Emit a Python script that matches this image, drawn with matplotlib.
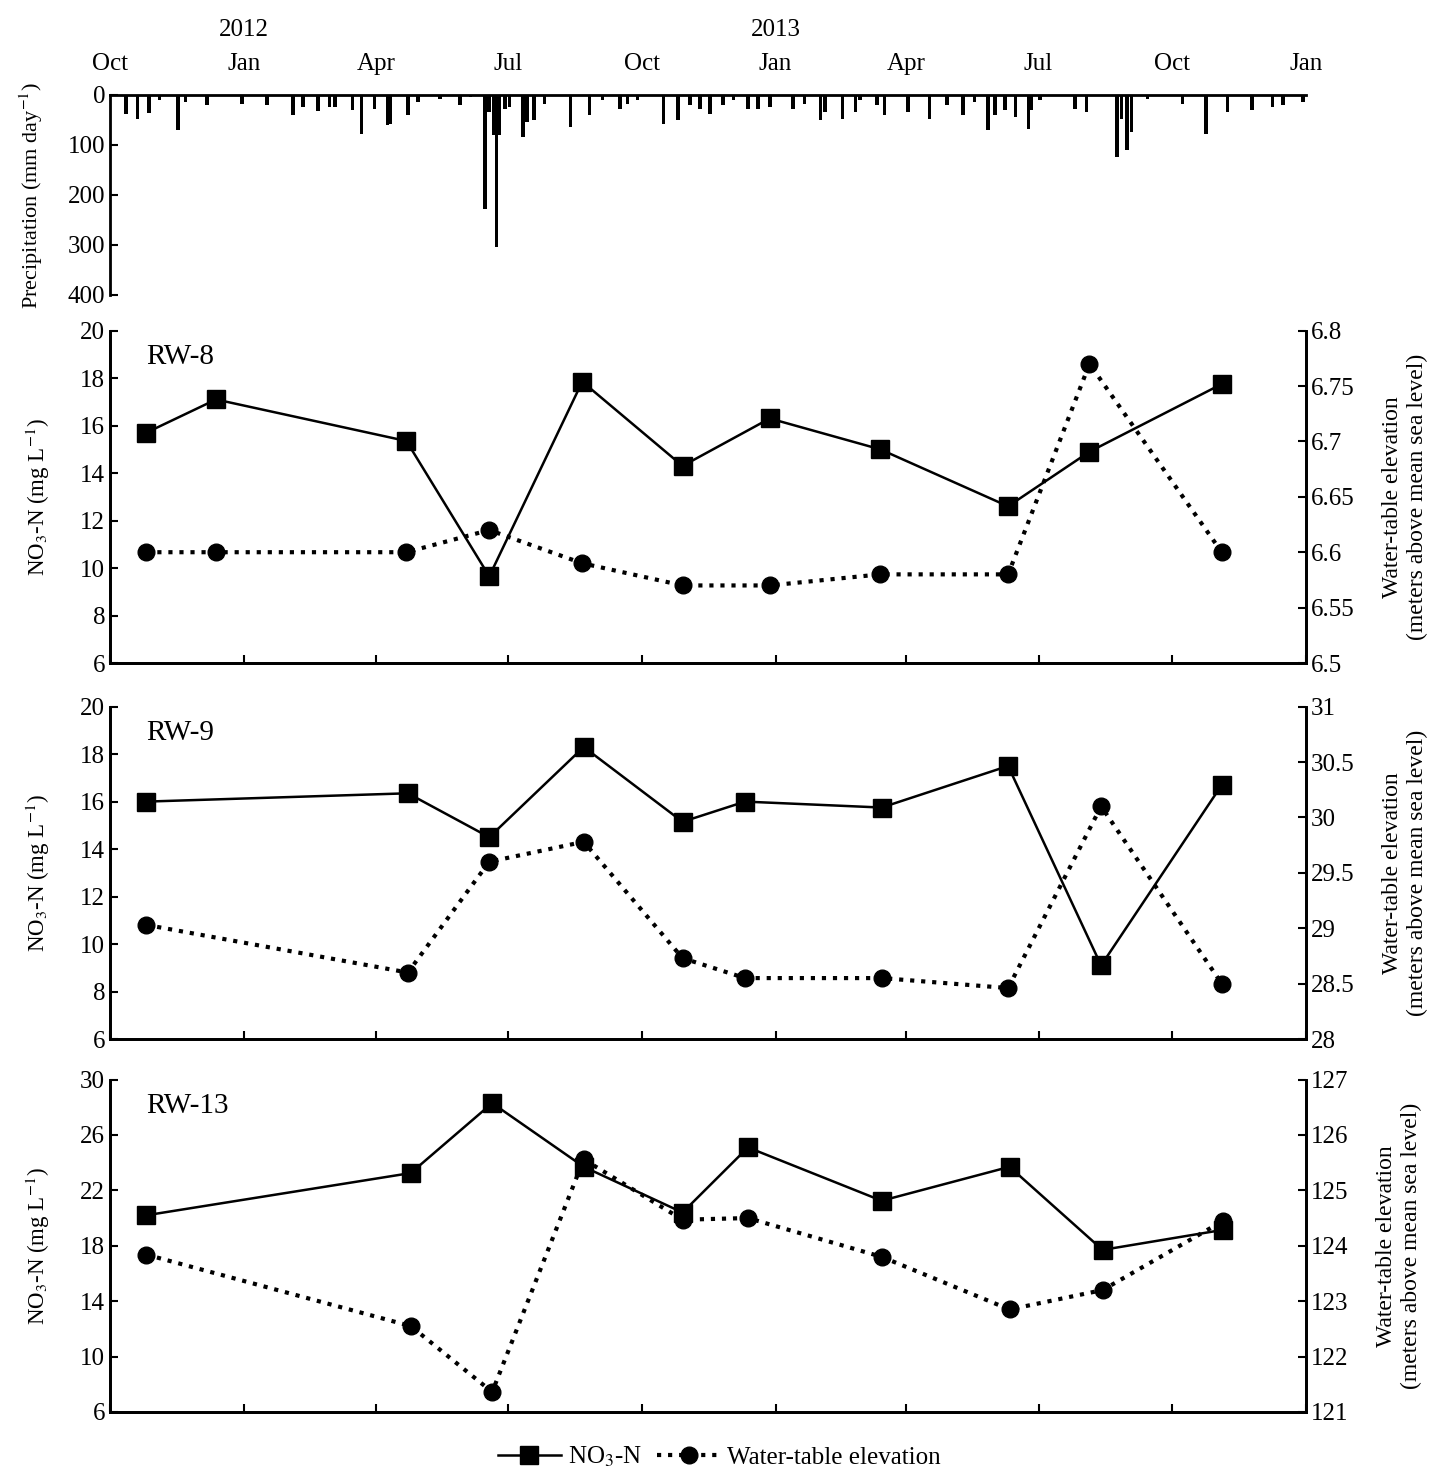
import numpy as np
import pandas as pd
import matplotlib
matplotlib.use('Agg')
import matplotlib.pyplot as plt
import matplotlib.dates as mdates
from matplotlib.lines import Line2D

plt.rcParams['font.family'] = ['Liberation Serif', 'DejaVu Serif']
plt.rcParams['mathtext.fontset'] = 'stix'

# daily precipitation, days since 2011-10-01 and mm/day
precip_day = [11, 19, 27, 34, 47, 52, 67, 91, 108, 126, 133, 143, 151, 155, 167, 173,
              182, 191, 193, 205, 212, 227, 241, 248, 258, 261, 264, 266, 268, 272,
              275, 284, 287, 292, 299, 317, 330, 339, 351, 356, 363, 381, 391, 399,
              406, 413, 422, 429, 439, 446, 454, 470, 478, 489, 492, 504, 513, 516,
              528, 533, 549, 564, 576, 587, 595, 604, 609, 616, 623, 632, 634, 640,
              664, 672, 693, 696, 700, 703, 714, 738, 754, 769, 786, 800, 807, 821]
precip_mm = [38, 48, 36, 11, 71, 15, 21, 18, 21, 41, 25, 33, 25, 25, 31, 78,
             28, 61, 58, 41, 15, 8, 21, 5, 228, 35, 81, 305, 81, 28,
             25, 85, 55, 51, 18, 65, 41, 11, 28, 18, 11, 58, 51, 21,
             28, 38, 21, 11, 28, 28, 25, 28, 18, 51, 35, 48, 35, 11,
             21, 41, 35, 48, 21, 41, 15, 71, 41, 31, 45, 68, 31, 11,
             28, 35, 125, 48, 111, 75, 8, 18, 78, 35, 31, 25, 21, 15]

rw8_dates = ['2011-10-26', '2011-12-13', '2012-04-22', '2012-06-18', '2012-08-21', '2012-10-29',
             '2012-12-28', '2013-03-14', '2013-06-10', '2013-08-05', '2013-11-04']
rw8_no3 = [15.7, 17.1, 15.35, 9.65, 17.85, 14.3, 16.3, 15.0, 12.6, 14.9, 17.75]
rw8_wt = [6.60, 6.60, 6.60, 6.62, 6.59, 6.57, 6.57, 6.58, 6.58, 6.77, 6.60]

rw9_dates = ['2011-10-26', '2012-04-23', '2012-06-18', '2012-08-22', '2012-10-29', '2012-12-11',
             '2013-03-15', '2013-06-10', '2013-08-13', '2013-11-04']
rw9_no3 = [16.0, 16.35, 14.5, 18.3, 15.15, 16.0, 15.75, 17.5, 9.1, 16.7]
rw9_wt = [29.03, 28.6, 29.6, 29.78, 28.73, 28.55, 28.55, 28.46, 30.1, 28.5]

rw13_dates = ['2011-10-26', '2012-04-25', '2012-06-20', '2012-08-22', '2012-10-29', '2012-12-13',
              '2013-03-15', '2013-06-11', '2013-08-14', '2013-11-05']
rw13_no3 = [20.2, 23.25, 28.3, 23.7, 20.4, 25.1, 21.25, 23.7, 17.7, 19.15]
rw13_wt = [123.84, 122.55, 121.36, 125.56, 124.47, 124.5, 123.8, 122.85, 123.2, 124.45]

xmin = pd.Timestamp('2011-10-01')
xmax = pd.Timestamp('2014-01-01')

fig = plt.figure(figsize=(14.39, 14.74), dpi=100)
L, W = 0.0764, 0.8312

# precipitation panel
axp = fig.add_axes([L, 0.7999, W, 0.1357])
pdates = xmin + pd.to_timedelta(precip_day, unit='D')
axp.bar(pdates, precip_mm, width=2.5, color='black', align='center')
axp.set_xlim(xmin, xmax)
axp.set_ylim(400, 0)
axp.set_yticks([0, 100, 200, 300, 400])
axp.xaxis.tick_top()
axp.xaxis.set_major_locator(mdates.MonthLocator(bymonth=[1, 4, 7, 10]))
axp.xaxis.set_major_formatter(mdates.DateFormatter('%b'))
axp.spines['bottom'].set_visible(False)
axp.spines['right'].set_visible(False)
axp.spines['left'].set_linewidth(2)
axp.spines['top'].set_linewidth(2)
axp.tick_params(axis='y', direction='in', length=6, width=1.5, labelsize=18)
axp.tick_params(axis='x', length=0, labelsize=18, pad=14)
axp.set_ylabel('Precipitation (mm day$^{-1}$)', fontsize=16, labelpad=16)
for yr in ['2012', '2013']:
    axp.text(pd.Timestamp(yr + '-01-01'), 1.27, yr, transform=axp.get_xaxis_transform(),
             ha='center', va='bottom', fontsize=18)

panels = [
    ('RW-8', rw8_dates, rw8_no3, rw8_wt, 0.5502, (6, 20), np.arange(6, 21, 2),
     (6.5, 6.8), np.arange(6.5, 6.8001, 0.05)),
    ('RW-9', rw9_dates, rw9_no3, rw9_wt, 0.2951, (6, 20), np.arange(6, 21, 2),
     (28, 31), np.arange(28, 31.01, 0.5)),
    ('RW-13', rw13_dates, rw13_no3, rw13_wt, 0.0421, (6, 30), np.arange(6, 31, 4),
     (121, 127), np.arange(121, 127.1, 1)),
]

for name, dts, no3, wt, bottom, ylim, yt, ylim2, yt2 in panels:
    ax = fig.add_axes([L, bottom, W, 0.2255])
    ax2 = ax.twinx()
    d = pd.to_datetime(dts)
    ax.plot(d, no3, '-', color='black', lw=1.8, marker='s', ms=13, zorder=3)
    ax2.plot(d, wt, ':', color='black', lw=3, marker='o', ms=12, zorder=3)
    ax.set_xlim(xmin, xmax)
    ax.set_ylim(*ylim)
    ax.set_yticks(yt)
    ax2.set_ylim(*ylim2)
    ax2.set_yticks(yt2)
    ax2.set_yticklabels(['%g' % round(v, 2) for v in yt2])
    ax.xaxis.set_major_locator(mdates.MonthLocator(bymonth=[1, 4, 7, 10]))
    ax.set_xticklabels([])
    for a in (ax, ax2):
        a.spines['top'].set_visible(False)
        for s in ('left', 'right', 'bottom'):
            a.spines[s].set_linewidth(2)
        a.tick_params(direction='in', length=6, width=1.5, labelsize=18)
    ax.set_ylabel('NO$_3$-N (mg L$^{-1}$)', fontsize=16.5, labelpad=20)
    ax2.set_ylabel('Water-table elevation\n(meters above mean sea level)', fontsize=17,
                   labelpad=20, linespacing=1.2)
    ax.text(0.03, 0.92, name, transform=ax.transAxes, fontsize=21, va='center')

h1 = Line2D([], [], color='black', lw=1.8, marker='s', ms=13)
h2 = Line2D([], [], color='black', lw=3, ls=':', marker='o', ms=12)
fig.legend([h1, h2], ['NO$_3$-N', 'Water-table elevation'], loc='lower center',
           bbox_to_anchor=(0.5, -0.012), ncol=2, frameon=False, fontsize=18,
           handlelength=2.5, columnspacing=0.6, handletextpad=0.3)

fig.savefig('out.png', dpi=100)
